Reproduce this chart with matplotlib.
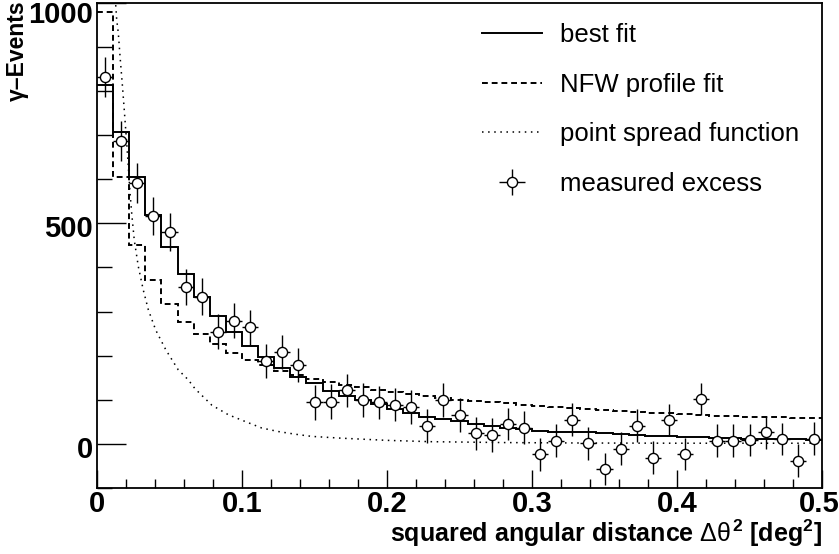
import numpy as np
import matplotlib
matplotlib.use("Agg")
import matplotlib.pyplot as plt
from matplotlib.lines import Line2D
from matplotlib.transforms import ScaledTranslation

# ---------------- data ----------------
x_min, x_max, n_bins = 0.0, 0.5, 45

measured = [832, 686, 592, 517, 480, 356, 334, 254, 279, 264,
            188, 208, 179, 94, 96, 121, 100, 94, 89, 83,
            41, 100, 66, 24, 20, 45, 37, -24, 7, 55,
            1, -57, -11, 41, -31, 54, -23, 102, 7, 7,
            9, 26, 11, -38, 12]
measured_err = [45, 45, 45, 43, 43, 41, 41, 40, 40, 40,
                39, 39, 39, 39, 39, 38, 38, 38, 38, 38,
                38, 38, 38, 38, 38, 37, 37, 37, 37, 37,
                37, 37, 37, 37, 37, 37, 37, 37, 37, 37,
                37, 37, 37, 37, 37]

best_fit = [813, 706, 606, 519, 447, 385, 334, 289, 253, 222,
            198, 171, 152, 137, 119, 108, 100, 91, 80, 70,
            62, 56, 51, 45, 40, 36, 33, 30, 28, 27,
            26, 24, 22, 20, 18, 17, 16, 15, 14, 13,
            12, 11, 10, 10, 9]

nfw_fit = [980, 606, 451, 372, 317, 277, 249, 226, 206, 191,
           178, 166, 156, 147, 140, 133, 128, 123, 118, 113,
           108, 105, 100, 97, 95, 92, 88, 86, 83, 81,
           79, 76, 74, 72, 71, 70, 68, 66, 64, 63,
           62, 61, 60, 59, 58]

psf_x = [0.0120, 0.0129, 0.0136, 0.0147, 0.0159, 0.0175, 0.0188, 0.0205,
         0.0216, 0.0228, 0.0240, 0.0257, 0.0285, 0.0319, 0.0354, 0.0405,
         0.0475, 0.0560, 0.0630, 0.0676, 0.0791, 0.0906, 0.102, 0.1136,
         0.125, 0.1366, 0.148, 0.168, 0.20, 0.23, 0.28, 0.333, 0.40, 0.5]
psf_y = [1030, 995, 961, 931, 878, 813, 757, 681,
         628, 568, 520, 462, 402, 349, 304, 258,
         213, 168, 145, 125, 88, 66, 51, 36,
         28, 22, 17, 13, 8, 5, 3, 2, 1.5, 1.5]

labels = ["best fit", "NFW profile fit", "point spread function", "measured excess"]
x_ticks = [0, 0.1, 0.2, 0.3, 0.4, 0.5]
x_tick_labels = ["0", "0.1", "0.2", "0.3", "0.4", "0.5"]
y_ticks = [0, 500, 1000]
y_tick_labels = ["0", "500", "1000"]

# ---------------- figure ----------------
plt.rcParams['font.family'] = ['Liberation Sans', 'DejaVu Sans']
plt.rcParams['mathtext.fontset'] = 'custom'
plt.rcParams['mathtext.rm'] = 'Liberation Sans'
plt.rcParams['mathtext.it'] = 'Liberation Sans'
plt.rcParams['mathtext.bf'] = 'Liberation Sans:bold'

W, H = 839, 554
fig = plt.figure(figsize=(W / 100, H / 100), dpi=100)
fig.patch.set_facecolor('white')
ax = fig.add_axes([97 / W, 1 - 488 / H, (822 - 97) / W, (488 - 2.7) / H])

edges = np.linspace(x_min, x_max, n_bins + 1)
centers = 0.5 * (edges[:-1] + edges[1:])
half_w = 0.5 * (edges[1] - edges[0])

ax.stairs(best_fit, edges, baseline=None, color='black', lw=1.4, zorder=3)
ax.stairs(nfw_fit, edges, baseline=None, color='black', lw=1.4,
          linestyle=(0, (3.0, 2.0)), zorder=3)
ax.plot(psf_x, psf_y, color='black', lw=1.1, linestyle=(0, (1, 3)), zorder=2)
eb = ax.errorbar(centers, measured, yerr=measured_err, xerr=half_w, fmt='o',
                 color='black', ecolor='black', elinewidth=1.0, capsize=0,
                 markersize=7.3, markerfacecolor='white', markeredgecolor='black',
                 markeredgewidth=1.0, zorder=4)

ax.set_xlim(x_min, x_max)
ax.set_ylim(-100, 1000)
ax.set_xticks(x_ticks)
ax.set_xticklabels(x_tick_labels)
ax.set_yticks(y_ticks)
ax.set_yticklabels(y_tick_labels)
ax.set_xticks(np.arange(0, 0.5001, 0.02), minor=True)
ax.set_yticks(np.arange(-100, 1001, 100), minor=True)
ax.tick_params(axis='both', which='both', direction='in', top=False, right=False)
ax.tick_params(axis='x', which='major', length=13, width=1.0)
ax.tick_params(axis='x', which='minor', length=6.5, width=1.0)
ax.tick_params(axis='y', which='major', length=21, width=1.0)
ax.tick_params(axis='y', which='minor', length=11, width=1.0)
ax.tick_params(axis='both', which='major', labelsize=21)
ax.tick_params(axis='x', which='major', pad=1.5)
ax.tick_params(axis='y', which='major', pad=3)
for lab in ax.get_xticklabels() + ax.get_yticklabels():
    lab.set_fontweight('bold')
for lab, dy in zip(ax.get_yticklabels(), [3, 3, 9]):
    lab.set_transform(lab.get_transform() +
                      ScaledTranslation(0, -dy / 100, fig.dpi_scale_trans))
last_x = ax.get_xticklabels()[-1]
last_x.set_transform(last_x.get_transform() +
                     ScaledTranslation(-3 / 100, 0, fig.dpi_scale_trans))
for sp in ax.spines.values():
    sp.set_linewidth(1.3)

ax.set_xlabel(r'squared angular distance $\Delta\theta^{\mathbf{2}}$ [deg$^{\mathbf{2}}$]',
              fontsize=18, fontweight='bold', loc='right', labelpad=0)
fig.text(17 / W, 1.0, 'γ–Events', rotation=90, ha='center', va='top',
         fontsize=16.5, fontweight='bold')

h_best = Line2D([], [], color='black', lw=1.4)
h_nfw = Line2D([], [], color='black', lw=1.4, linestyle=(0, (3.0, 2.0)))
h_psf = Line2D([], [], color='black', lw=1.1, linestyle=(0, (1, 3)))
leg = ax.legend([h_best, h_nfw, h_psf, eb], labels, loc='upper left',
                bbox_to_anchor=(482 / W, 1 - 23 / H), bbox_transform=fig.transFigure,
                frameon=False, fontsize=18.5, handlelength=2.35, handletextpad=0.7,
                labelspacing=1.0, borderpad=0, borderaxespad=0)

fig.savefig('out.png', dpi=100, facecolor='white')
